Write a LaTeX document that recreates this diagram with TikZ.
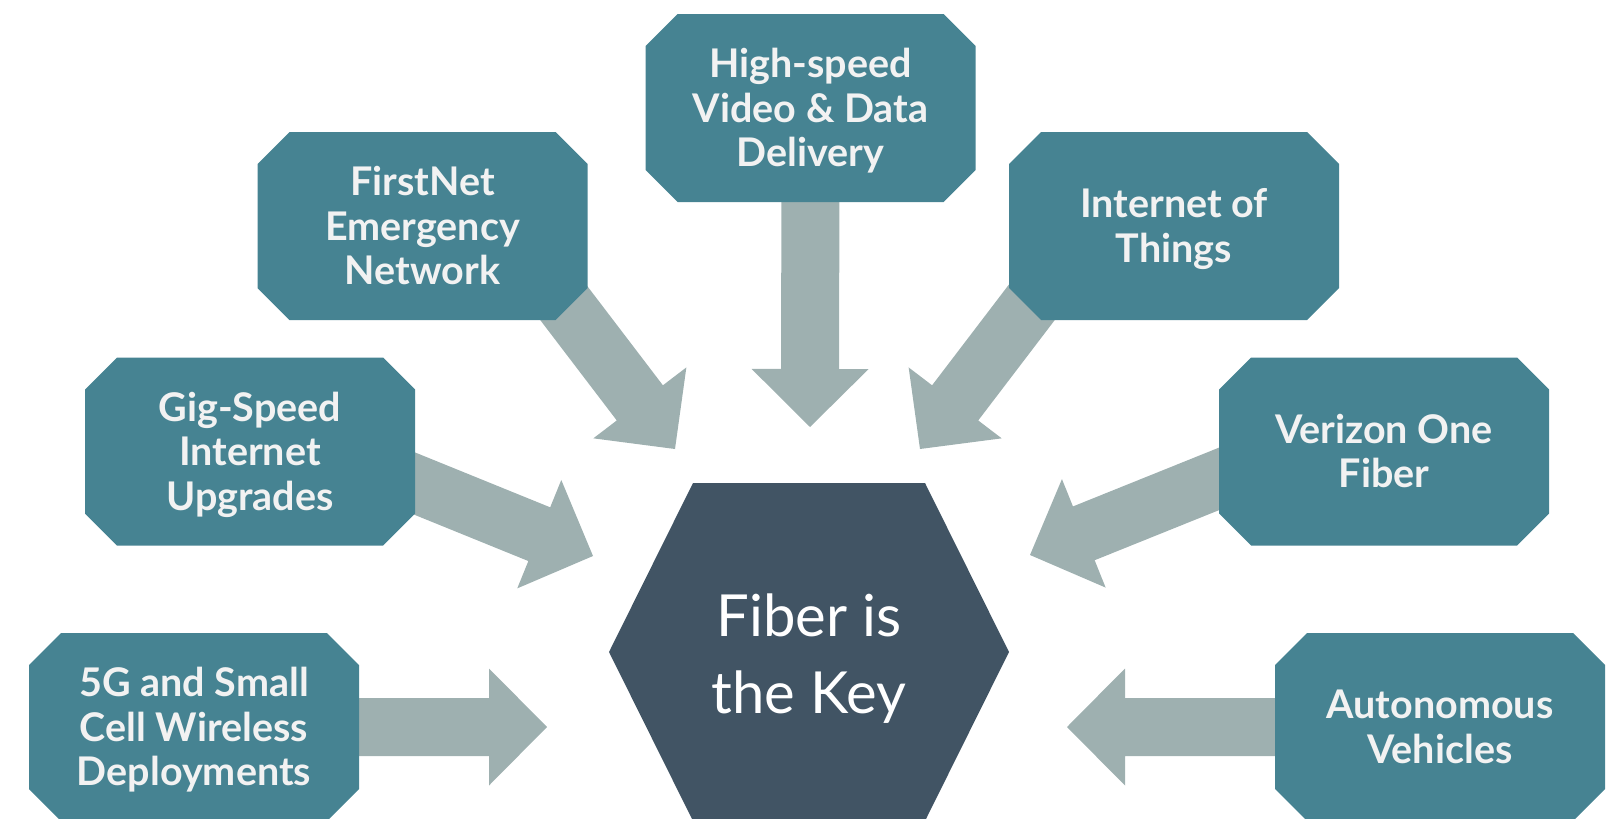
\documentclass[tikz,border=0pt]{standalone}
\usepackage{fontspec}
\setmainfont{Lato}
\usetikzlibrary{calc,backgrounds}
\definecolor{boxteal}{HTML}{468392}
\definecolor{arrowgray}{HTML}{9EB0B0}
\definecolor{hexdark}{HTML}{415464}
\definecolor{textlight}{HTML}{F2F2F2}
\newcommand\flowarrow[2]{%
  \path ($(#2)!58pt!(#1)$) coordinate (ab);
  \fill[flow] ($(#1)!29pt!90:(#2)$) -- ($(ab)!29pt!90:(#2)$) -- ($(ab)!58.5pt!90:(#2)$)
    -- (#2) -- ($(ab)!58.5pt!-90:(#2)$) -- ($(ab)!29pt!-90:(#2)$) -- ($(#1)!29pt!-90:(#2)$) -- cycle;}
\begin{document}
\begin{tikzpicture}[x=1pt,y=-1pt,
  topic/.style={rectangle, minimum width=330pt, minimum height=188pt, inner sep=0pt, text=textlight,
    font=\bfseries\fontsize{39.5}{44.5}\selectfont, align=center, text depth=0pt,
    path picture={\fill[boxteal]
      ($(path picture bounding box.north west)+(32,0)$) -- ($(path picture bounding box.north east)+(-32,0)$)
      -- ($(path picture bounding box.north east)+(0,32)$) -- ($(path picture bounding box.south east)+(0,-32)$)
      -- ($(path picture bounding box.south east)+(-32,0)$) -- ($(path picture bounding box.south west)+(32,0)$)
      -- ($(path picture bounding box.south west)+(0,-32)$) -- ($(path picture bounding box.north west)+(0,32)$) -- cycle;}},
  lines2/.style={text height=72.8pt},
  lines3/.style={text height=117.3pt},
  hubtext/.style={text=white, font=\fontsize{58}{77}\selectfont, align=center, inner sep=0pt,
    text height=118.6pt, text depth=0pt},
  flow/.style={fill=arrowgray}]
\useasboundingbox (0,0) rectangle (1615,819);

\node[topic,lines3] (hs)    at (810.5,108) {High-speed\\Video \& Data\\Delivery};
\node[topic,lines3] (fn)    at (422.5,226) {FirstNet\\Emergency\\Network};
\node[topic,lines2] (iot)   at (1174,226)  {Internet of\\Things};
\node[topic,lines3] (gig)   at (250,451.5) {Gig-Speed\\Internet\\Upgrades};
\node[topic,lines2] (ver)   at (1384,451.5) {Verizon One\\Fiber};
\node[topic,lines3] (fiveg) at (194,727)   {5G and Small\\Cell Wireless\\Deployments};
\node[topic,lines2] (auto)  at (1440,727)  {Autonomous\\Vehicles};
\node[hubtext] (hub) at (809,654)   {Fiber is\\the Key};

\coordinate (fnTail)  at ($(fn.center)+(82.5,0)$);
\coordinate (iotTail) at ($(iot.center)+(-84,0)$);
\coordinate (gigTail) at ($(gig.center)+(50,-14.5)$);
\coordinate (verTail) at ($(ver.center)+(-61,-14.5)$);
\coordinate (hsTip)   at (810,427);
\coordinate (fnTip)   at (675,449);
\coordinate (iotTip)  at (920,449);
\coordinate (gigTip)  at (593,556);
\coordinate (verTip)  at (1030,555);
\coordinate (fivegTip) at (547,727);
\coordinate (autoTip) at (1067,727);

\begin{scope}[on background layer]
  \fill[hexdark] ($(hub.center)+(-200,-2)$) -- ($(hub.center)+(-116,-171)$) -- ($(hub.center)+(116,-171)$)
    -- ($(hub.center)+(200,-2)$) -- ($(hub.center)+(116,167)$) -- ($(hub.center)+(-116,167)$) -- cycle;
  \flowarrow{hs.center}{hsTip}
  \flowarrow{fnTail}{fnTip}
  \flowarrow{iotTail}{iotTip}
  \flowarrow{gigTail}{gigTip}
  \flowarrow{verTail}{verTip}
  \flowarrow{fiveg.center}{fivegTip}
  \flowarrow{auto.center}{autoTip}
\end{scope}
\end{tikzpicture}
\end{document}
